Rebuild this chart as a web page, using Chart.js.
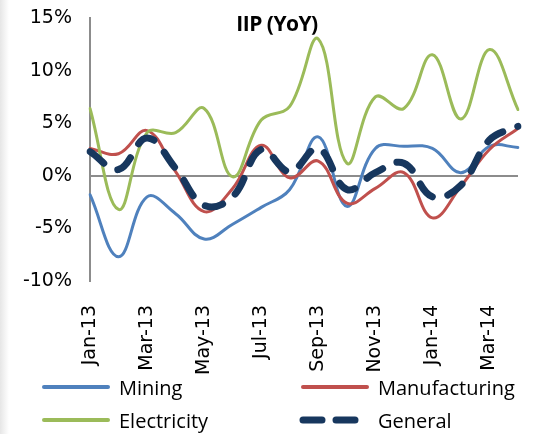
<!DOCTYPE html>
<html lang="en">
<head>
<meta charset="UTF-8">
<title>IIP (YoY)</title>
<script src="https://cdn.jsdelivr.net/npm/chart.js"></script>
<style>
    html, body { margin: 0; padding: 0; }
    body {
        width: 538px; height: 434px; overflow: hidden;
        background: linear-gradient(to right, #e6e6e6 0px, #ffffff 9px);
        font-family: "Open Sans", sans-serif;
    }
    .wrap { position: relative; width: 538px; height: 434px; }
    #grafico { position: absolute; left: 0; top: 0; }
    .titulo {
        position: absolute; left: 177px; width: 200px; top: 9px;
        text-align: center; font-weight: bold; font-size: 21px; color: #000;
        letter-spacing: -0.5px;
    }
    .legenda { position: absolute; left: 0; top: 0; width: 538px; height: 434px; pointer-events: none; }
    .item { position: absolute; height: 30px; display: flex; align-items: center; font-size: 20px; color: #000; }
    .item svg { margin-right: 7px; }
</style>
</head>
<body>
<div class="wrap">
    <canvas id="grafico" width="538" height="434"></canvas>
    <div class="titulo">IIP (YoY)</div>
    <div class="legenda" id="legenda"></div>
</div>
<script>
    // meses (jan-13 .. abr-14)
    const meses = ['Jan-13', 'Feb-13', 'Mar-13', 'Apr-13', 'May-13', 'Jun-13', 'Jul-13', 'Aug-13',
                   'Sep-13', 'Oct-13', 'Nov-13', 'Dec-13', 'Jan-14', 'Feb-14', 'Mar-14', 'Apr-14'];

    // valores em %
    const mining        = [-1.8, -7.7, -2.0, -3.6, -6.0, -4.6, -3.0, -1.3, 3.7, -2.9, 2.6, 2.8, 2.6, 0.3, 2.8, 2.7];
    const manufacturing = [2.6, 2.1, 4.3, 0.4, -3.4, -1.2, 2.9, -0.2, 1.4, -2.6, -1.2, 0.3, -4.0, -1.0, 2.5, 4.5];
    const electricity   = [6.4, -3.2, 4.1, 4.1, 6.4, -0.1, 5.3, 6.6, 13.0, 1.2, 7.5, 6.4, 11.5, 5.4, 12.0, 6.3];
    const general       = [2.3, 0.6, 3.6, 0.7, -2.8, -2.0, 2.5, 0.4, 2.6, -1.3, 0.3, 1.2, -2.0, -0.9, 3.4, 4.7];

    const ticksY = [-10, -5, 0, 5, 10, 15];

    const series = [
        { nome: 'Mining', valores: mining, cor: '#4F81BD', largura: 3, dash: [], ordem: 3 },
        { nome: 'Manufacturing', valores: manufacturing, cor: '#C0504D', largura: 3, dash: [], ordem: 2 },
        { nome: 'Electricity', valores: electricity, cor: '#9BBB59', largura: 3, dash: [], ordem: 1 },
        { nome: 'General', valores: general, cor: '#17375E', largura: 7, dash: [18, 16], ordem: 0 }
    ];

    const fonteEixo = { family: '"DejaVu Sans", sans-serif', size: 19 };

    let dados = {
        labels: meses,
        datasets: series.map(function (s) {
            return {
                label: s.nome,
                data: s.valores,
                borderColor: s.cor,
                backgroundColor: s.cor,
                borderWidth: s.largura,
                borderDash: s.dash,
                borderCapStyle: 'round',
                borderJoinStyle: 'round',
                pointRadius: 0,
                fill: false,
                tension: 0.4,
                order: s.ordem
            };
        })
    };

    const config = {
        type: 'line',
        data: dados,
        options: {
            responsive: false,
            animation: false,
            layout: { padding: { top: 18, right: 20, left: 0, bottom: 0 } },
            plugins: {
                legend: { display: false },
                title: { display: false },
                tooltip: { enabled: false }
            },
            scales: {
                x: {
                    offset: false,
                    grid: { display: false },
                    border: { display: false },
                    ticks: {
                        autoSkip: false,
                        minRotation: 90,
                        maxRotation: 90,
                        padding: 16,
                        color: '#000',
                        font: fonteEixo,
                        callback: function (v, i) { return i % 2 === 0 ? meses[i] : ''; }
                    },
                    afterFit: function (scale) {
                        scale.height = 434 - 281;
                        scale.paddingLeft = 0;
                        scale.paddingRight = 0;
                    }
                },
                y: {
                    min: -10,
                    max: 15,
                    afterBuildTicks: function (scale) {
                        scale.ticks = ticksY.map(function (v) { return { value: v }; });
                    },
                    grid: {
                        drawTicks: false,
                        lineWidth: 2,
                        color: function (c) { return c.tick && c.tick.value === 0 ? '#8c8c8c' : 'rgba(0,0,0,0)'; }
                    },
                    border: { display: true, color: '#8c8c8c', width: 2 },
                    ticks: {
                        padding: 18,
                        color: '#000',
                        font: fonteEixo,
                        callback: function (v) { return v + '%'; }
                    },
                    afterFit: function (scale) {
                        scale.width = 90;
                        scale.paddingTop = 0;
                        scale.paddingBottom = 0;
                    }
                }
            }
        }
    };

    let grafico = new Chart(document.getElementById('grafico'), config);

    // legenda em duas colunas, como no original
    const posicoes = [[40, 372], [299, 372], [40, 405], [299, 405]];
    let legenda = document.getElementById('legenda');
    grafico.data.datasets.forEach(function (ds, i) {
        let item = document.createElement('div');
        item.className = 'item';
        item.style.left = posicoes[i][0] + 'px';
        item.style.top = posicoes[i][1] + 'px';
        let tracejado = ds.borderDash.length > 0;
        item.innerHTML = '<svg width="72" height="12"><line x1="4" y1="6" x2="68" y2="6" stroke="' + ds.borderColor +
            '" stroke-width="' + (tracejado ? 7 : 4) + '" stroke-linecap="round"' +
            (tracejado ? ' stroke-dasharray="19 14"' : '') + '/></svg>' +
            '<span>' + ds.label + '</span>';
        legenda.appendChild(item);
    });
</script>
</body>
</html>
